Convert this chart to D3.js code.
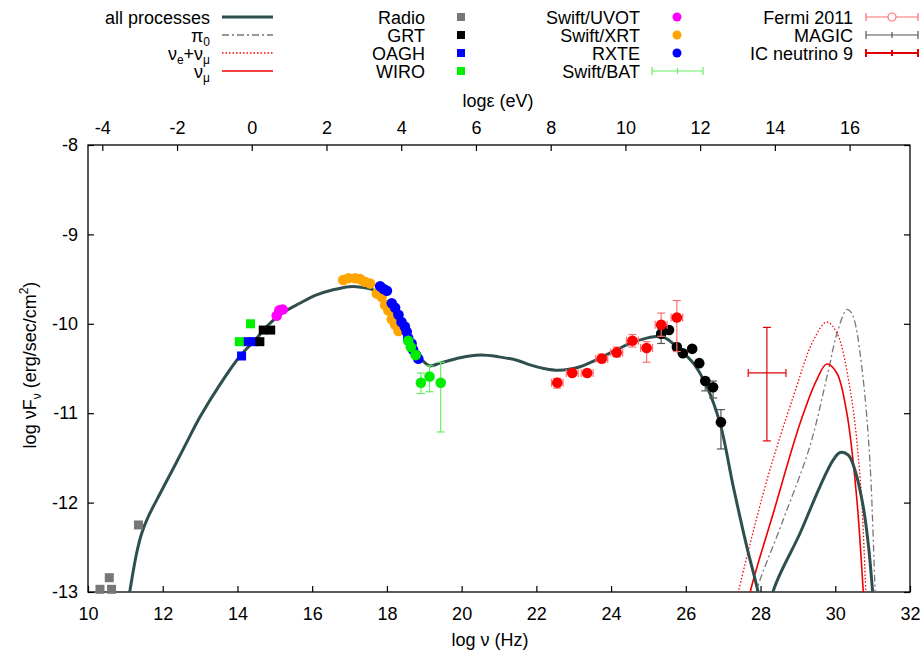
<!DOCTYPE html>
<html>
<head>
<meta charset="utf-8">
<script src="https://cdn.jsdelivr.net/npm/d3@7"></script>
<style>
  body { margin: 0; background: #fff; }
  text { font-family: "Liberation Sans", Arial, sans-serif; fill: #000; }
</style>
</head>
<body>
<svg id="sed"></svg>
<script>
var width = 922;
var height = 652;
var margin = { top: 145, right: 12, bottom: 60, left: 88 };

// model curves: [log nu, log nuFnu]
var allProcesses = [
  [11.08,-13.09],[11.124,-12.98],[11.23,-12.72],[11.32,-12.53],[11.44,-12.34],[11.61,-12.16],
  [11.84,-11.97],[12.09,-11.77],[12.33,-11.58],[12.6,-11.36],[13.0,-11.04],
  [13.53,-10.68],[14.07,-10.36],[14.5,-10.17],[14.78,-10.03],[15.2,-9.88],
  [15.67,-9.77],[16.1,-9.68],[16.56,-9.62],[17.0,-9.585],[17.3,-9.59],[17.63,-9.62],
  [18.0,-9.77],[18.35,-9.99],[18.7,-10.26],[18.95,-10.41],[19.15,-10.47],[19.42,-10.44],
  [19.96,-10.38],[20.5,-10.35],[21.0,-10.37],[21.5,-10.41],[21.83,-10.46],[22.2,-10.5],
  [22.59,-10.52],[23.17,-10.48],[23.62,-10.4],[24.15,-10.29],[24.51,-10.22],[24.95,-10.16],
  [25.31,-10.14],[25.5,-10.17],[25.76,-10.26],[26.2,-10.44],[26.56,-10.7],[26.92,-11.12],
  [27.27,-11.82],[27.63,-12.49],[27.94,-13.01],[28.1,-13.4],[28.2,-13.4],[28.34,-12.99],
  [29.06,-12.34],[29.59,-11.82],[29.95,-11.52],[30.13,-11.44],[30.35,-11.47],[30.53,-11.64],
  [30.75,-12.05],[30.89,-12.49],[31.0,-13.0],[31.05,-13.3]
];
var pi0 = [
  [27.8,-13.2],[27.89,-12.99],[28.6,-12.2],[29.32,-11.37],[29.8,-10.55],[30.05,-10.1],
  [30.31,-9.84],[30.42,-9.87],[30.53,-9.99],[30.75,-10.63],[30.93,-11.56],[31.07,-13.0],[31.1,-13.2]
];
var nuEplusMu = [
  [27.3,-13.2],[27.41,-12.99],[28.17,-11.75],[28.88,-10.81],[29.42,-10.18],[29.77,-9.98],
  [30.04,-10.1],[30.4,-10.74],[30.67,-11.75],[30.82,-13.0],[30.85,-13.2]
];
var nuMu = [
  [27.65,-13.2],[27.73,-12.99],[28.34,-12.12],[29.06,-11.11],[29.5,-10.63],[29.77,-10.45],
  [30.04,-10.55],[30.31,-11.0],[30.57,-11.93],[30.75,-13.0],[30.78,-13.2]
];

// observations
var radio = [[10.32,-12.97],[10.57,-12.84],[10.63,-12.97],[11.35,-12.25]];
var grt = [[14.6,-10.2],[14.69,-10.07],[14.89,-10.07]];
var oagh = [[14.11,-10.36],[14.25,-10.2],[14.43,-10.2]];
var wiro = [[14.05,-10.2],[14.35,-10.0]];
var uvot = [[15.05,-9.91],[15.12,-9.85],[15.21,-9.84]];
var xrt = [
  [16.83,-9.51],[16.97,-9.49],[17.15,-9.49],[17.28,-9.5],[17.41,-9.53],[17.55,-9.55],
  [17.73,-9.66],[17.86,-9.7],[17.95,-9.79],[18.04,-9.85],[18.13,-9.95],[18.22,-10.01],[18.31,-10.08]
];
var rxte = [
  [17.82,-9.58],[17.91,-9.61],[18.0,-9.63],[18.13,-9.77],[18.22,-9.82],[18.31,-9.9],
  [18.39,-9.98],[18.48,-10.03],[18.53,-10.09],[18.57,-10.16],[18.66,-10.22],[18.7,-10.29],
  [18.78,-10.35],[18.84,-10.39]
];
// [log nu, log nuFnu, upper, lower]
var bat = [
  [18.57,-10.19,-10.19,-10.19],[18.64,-10.26,-10.26,-10.26],[18.77,-10.35,-10.35,-10.35],
  [18.91,-10.66,-10.55,-10.78],[19.14,-10.59,-10.47,-10.76],[19.44,-10.66,-10.43,-11.21]
];
// [log nu, log nuFnu, half width in nu, upper, lower]
var fermi = [
  [22.56,-10.66,0.155,-10.61,-10.72],[22.96,-10.55,0.16,-10.52,-10.58],
  [23.36,-10.55,0.16,-10.52,-10.58],[23.75,-10.39,0.16,-10.34,-10.43],
  [24.15,-10.32,0.16,-10.26,-10.37],[24.57,-10.19,0.16,-10.12,-10.26],
  [24.95,-10.27,0.16,-10.2,-10.43],[25.34,-10.01,0.16,-9.88,-10.14],
  [25.76,-9.93,0.155,-9.74,-10.31]
];
// [log nu, log nuFnu, upper, lower]
var magic = [
  [25.34,-10.11,-10.05,-10.22],[25.55,-10.07,-10.07,-10.07],[25.76,-10.26,-10.26,-10.26],
  [25.92,-10.33,-10.33,-10.33],[26.17,-10.28,-10.28,-10.28],[26.36,-10.44,-10.44,-10.44],
  [26.52,-10.64,-10.6,-10.75],[26.73,-10.71,-10.64,-10.83],[26.94,-11.1,-10.96,-11.4]
];
// [log nu, log nuFnu, nu low, nu high, upper, lower]
var icNeutrino = [[28.17,-10.55,27.67,28.68,-10.04,-11.31]];

var xTicks = [10,12,14,16,18,20,22,24,26,28,30,32];
var yTicks = [-8,-9,-10,-11,-12,-13];
var eTicks = [-4,-2,0,2,4,6,8,10,12,14,16];
var logH = -14.383; // log10(h) in eV s

var xScale = d3.scaleLinear().domain([10, 32]).range([margin.left, width - margin.right]);
var yScale = d3.scaleLinear().domain([-13, -8]).range([height - margin.bottom, margin.top]);
var eScale = d3.scaleLinear().domain([10 + logH, 32 + logH]).range([margin.left, width - margin.right]);

var svg = d3.select("#sed").attr("width", width).attr("height", height);

svg.append("clipPath").attr("id", "plotclip")
  .append("rect")
    .attr("x", margin.left).attr("y", margin.top)
    .attr("width", width - margin.right - margin.left)
    .attr("height", height - margin.bottom - margin.top);

// axes with inward ticks
function styleAxis(g) {
  g.select(".domain").remove();
  g.selectAll(".tick line").attr("stroke", "#000").attr("stroke-width", 1.2);
  g.selectAll("text").style("font-size", "18px").attr("font-family", null);
}
var plain = function(d) { return String(d); };

svg.append("g")
    .attr("transform", "translate(0," + (height - margin.bottom) + ")")
    .call(d3.axisBottom(xScale).tickValues(xTicks).tickFormat(plain).tickSize(-6).tickPadding(15))
    .call(styleAxis);

svg.append("g")
    .attr("transform", "translate(" + margin.left + ",0)")
    .call(d3.axisLeft(yScale).tickValues(yTicks).tickFormat(plain).tickSize(-6).tickPadding(10))
    .call(styleAxis);

svg.append("g")
    .attr("transform", "translate(" + (width - margin.right) + ",0)")
    .call(d3.axisRight(yScale).tickValues(yTicks).tickSize(-6).tickFormat(""))
    .call(styleAxis);

svg.append("g")
    .attr("transform", "translate(0," + margin.top + ")")
    .call(d3.axisTop(eScale).tickValues(eTicks).tickFormat(plain).tickSize(-6).tickPadding(11))
    .call(styleAxis);

svg.append("rect")
    .attr("x", margin.left).attr("y", margin.top)
    .attr("width", width - margin.right - margin.left)
    .attr("height", height - margin.bottom - margin.top)
    .attr("fill", "none").attr("stroke", "#000").attr("stroke-width", 1.3);

// axis titles
svg.append("text")
    .attr("x", 490).attr("y", 646)
    .style("font-size", "18px").style("text-anchor", "middle")
    .text("log \u03bd (Hz)");

svg.append("text")
    .attr("x", 498).attr("y", 107)
    .style("font-size", "18px").style("text-anchor", "middle")
    .text("log\u03b5 (eV)");

var yTitle = svg.append("text")
    .attr("transform", "translate(36,365) rotate(-90)")
    .style("font-size", "18px").style("text-anchor", "middle");
yTitle.append("tspan").text("log \u03bdF");
yTitle.append("tspan").attr("dy", 5).style("font-size", "12px").text("\u03bd");
yTitle.append("tspan").attr("dy", -5).text(" (erg/sec/cm");
yTitle.append("tspan").attr("dy", -8).style("font-size", "12px").text("2");
yTitle.append("tspan").attr("dy", 8).text(")");

// model curves
var line = d3.line()
    .x(function(d) { return xScale(d[0]); })
    .y(function(d) { return yScale(d[1]); })
    .curve(d3.curveCatmullRom.alpha(0.5));

var curves = svg.append("g").attr("clip-path", "url(#plotclip)");

curves.append("path").datum(pi0).attr("d", line)
    .attr("fill", "none").attr("stroke", "#777").attr("stroke-width", 1.3)
    .attr("stroke-dasharray", "7,3,2,3");
curves.append("path").datum(nuEplusMu).attr("d", line)
    .attr("fill", "none").attr("stroke", "#ff0000").attr("stroke-width", 1.3)
    .attr("stroke-dasharray", "1.5,2");
curves.append("path").datum(nuMu).attr("d", line)
    .attr("fill", "none").attr("stroke", "#ee0000").attr("stroke-width", 1.6);
curves.append("path").datum(allProcesses).attr("d", line)
    .attr("fill", "none").attr("stroke", "#2f4f4f").attr("stroke-width", 3);

// helpers for marks
function squares(data, color) {
  svg.append("g").selectAll("rect").data(data).enter().append("rect")
    .attr("x", function(d) { return xScale(d[0]) - 4.5; })
    .attr("y", function(d) { return yScale(d[1]) - 4.5; })
    .attr("width", 9).attr("height", 9)
    .attr("fill", color);
}
function dots(data, color) {
  svg.append("g").selectAll("circle").data(data).enter().append("circle")
    .attr("cx", function(d) { return xScale(d[0]); })
    .attr("cy", function(d) { return yScale(d[1]); })
    .attr("r", 5.3)
    .attr("fill", color);
}
function yBars(data, color, iHi, iLo) {
  var g = svg.append("g").attr("stroke", color).attr("stroke-width", 1.2);
  data.forEach(function(d) {
    if (d[iHi] === d[iLo]) return;
    var cx = xScale(d[0]);
    g.append("line").attr("x1", cx).attr("x2", cx).attr("y1", yScale(d[iHi])).attr("y2", yScale(d[iLo]));
    g.append("line").attr("x1", cx - 4).attr("x2", cx + 4).attr("y1", yScale(d[iHi])).attr("y2", yScale(d[iHi]));
    g.append("line").attr("x1", cx - 4).attr("x2", cx + 4).attr("y1", yScale(d[iLo])).attr("y2", yScale(d[iLo]));
  });
}
function xBars(data, color, lo, hi) {
  var g = svg.append("g").attr("stroke", color).attr("stroke-width", 1.2);
  data.forEach(function(d) {
    var cy = yScale(d[1]);
    var x1 = xScale(lo(d)), x2 = xScale(hi(d));
    g.append("line").attr("x1", x1).attr("x2", x2).attr("y1", cy).attr("y2", cy);
    g.append("line").attr("x1", x1).attr("x2", x1).attr("y1", cy - 4).attr("y2", cy + 4);
    g.append("line").attr("x1", x2).attr("x2", x2).attr("y1", cy - 4).attr("y2", cy + 4);
  });
}

squares(radio, "#777");
squares(oagh, "#0000ff");
squares(wiro, "#00ee00");
squares(grt, "#000");
dots(uvot, "#ff00ff");
dots(xrt, "#ffa500");
dots(rxte, "#0000ff");
yBars(bat, "#66ee66", 2, 3);
dots(bat, "#00ee00");

yBars(magic, "#555", 2, 3);
dots(magic, "#000");

yBars(fermi, "#ff6f6f", 3, 4);
xBars(fermi, "#ff6f6f", function(d) { return d[0] - d[2]; }, function(d) { return d[0] + d[2]; });
dots(fermi, "#ff0000");

yBars(icNeutrino, "#e00000", 4, 5);
xBars(icNeutrino, "#e00000", function(d) { return d[2]; }, function(d) { return d[3]; });

// legend
var legend = svg.append("g").style("font-size", "18px");
var rowY = [17, 35, 53, 71];

function label(x, y, parts) {
  var t = legend.append("text").attr("x", x).attr("y", y + 6.5).style("text-anchor", "end");
  parts.forEach(function(p) {
    var s = t.append("tspan").text(p[0]);
    if (p[1] === "sub") s.style("font-size", "12px").attr("dy", 4);
    else if (p[1] === "back") s.attr("dy", -4);
  });
}

label(210, rowY[0], [["all processes"]]);
label(210, rowY[1], [["\u03c0"], ["0", "sub"]]);
label(210, rowY[2], [["\u03bd"], ["e", "sub"], ["+\u03bd", "back"], ["\u03bc", "sub"]]);
label(210, rowY[3], [["\u03bd"], ["\u03bc", "sub"]]);

legend.append("line").attr("x1", 222).attr("x2", 273).attr("y1", rowY[0]).attr("y2", rowY[0])
    .attr("stroke", "#2f4f4f").attr("stroke-width", 3);
legend.append("line").attr("x1", 222).attr("x2", 273).attr("y1", rowY[1]).attr("y2", rowY[1])
    .attr("stroke", "#777").attr("stroke-width", 1.3).attr("stroke-dasharray", "7,3,2,3");
legend.append("line").attr("x1", 222).attr("x2", 273).attr("y1", rowY[2]).attr("y2", rowY[2])
    .attr("stroke", "#ff0000").attr("stroke-width", 1.3).attr("stroke-dasharray", "1.5,2");
legend.append("line").attr("x1", 222).attr("x2", 273).attr("y1", rowY[3]).attr("y2", rowY[3])
    .attr("stroke", "#ee0000").attr("stroke-width", 1.6);

var col2 = [["Radio", "#777"], ["GRT", "#000"], ["OAGH", "#0000ff"], ["WIRO", "#00ee00"]];
col2.forEach(function(c, i) {
  label(425, rowY[i], [[c[0]]]);
  legend.append("rect").attr("x", 457).attr("y", rowY[i] - 4).attr("width", 8).attr("height", 8).attr("fill", c[1]);
});

var col3 = [["Swift/UVOT", "#ff00ff"], ["Swift/XRT", "#ffa500"], ["RXTE", "#0000ff"]];
col3.forEach(function(c, i) {
  label(640, rowY[i], [[c[0]]]);
  legend.append("circle").attr("cx", 677).attr("cy", rowY[i]).attr("r", 4.5).attr("fill", c[1]);
});
label(640, rowY[3], [["Swift/BAT"]]);

function barSample(x1, x2, y, color, w, mid) {
  var g = legend.append("g").attr("stroke", color).attr("stroke-width", w).attr("fill", "none");
  g.append("line").attr("x1", x1).attr("x2", x2).attr("y1", y).attr("y2", y);
  g.append("line").attr("x1", x1).attr("x2", x1).attr("y1", y - 4).attr("y2", y + 4);
  g.append("line").attr("x1", x2).attr("x2", x2).attr("y1", y - 4).attr("y2", y + 4);
  var xm = (x1 + x2) / 2;
  if (mid === "circle") g.append("circle").attr("cx", xm).attr("cy", y).attr("r", 4).attr("fill", "#fff");
  else g.append("line").attr("x1", xm).attr("x2", xm).attr("y1", y - 3).attr("y2", y + 3);
}
barSample(652, 703, rowY[3], "#66ee66", 1.2, "tick");

label(853, rowY[0], [["Fermi 2011"]]);
label(853, rowY[1], [["MAGIC"]]);
label(853, rowY[2], [["IC neutrino 9"]]);
barSample(866, 918, rowY[0], "#ff6f6f", 1.2, "circle");
barSample(866, 918, rowY[1], "#555", 1.2, "tick");
barSample(866, 918, rowY[2], "#e00000", 2, "tick");
</script>
</body>
</html>
